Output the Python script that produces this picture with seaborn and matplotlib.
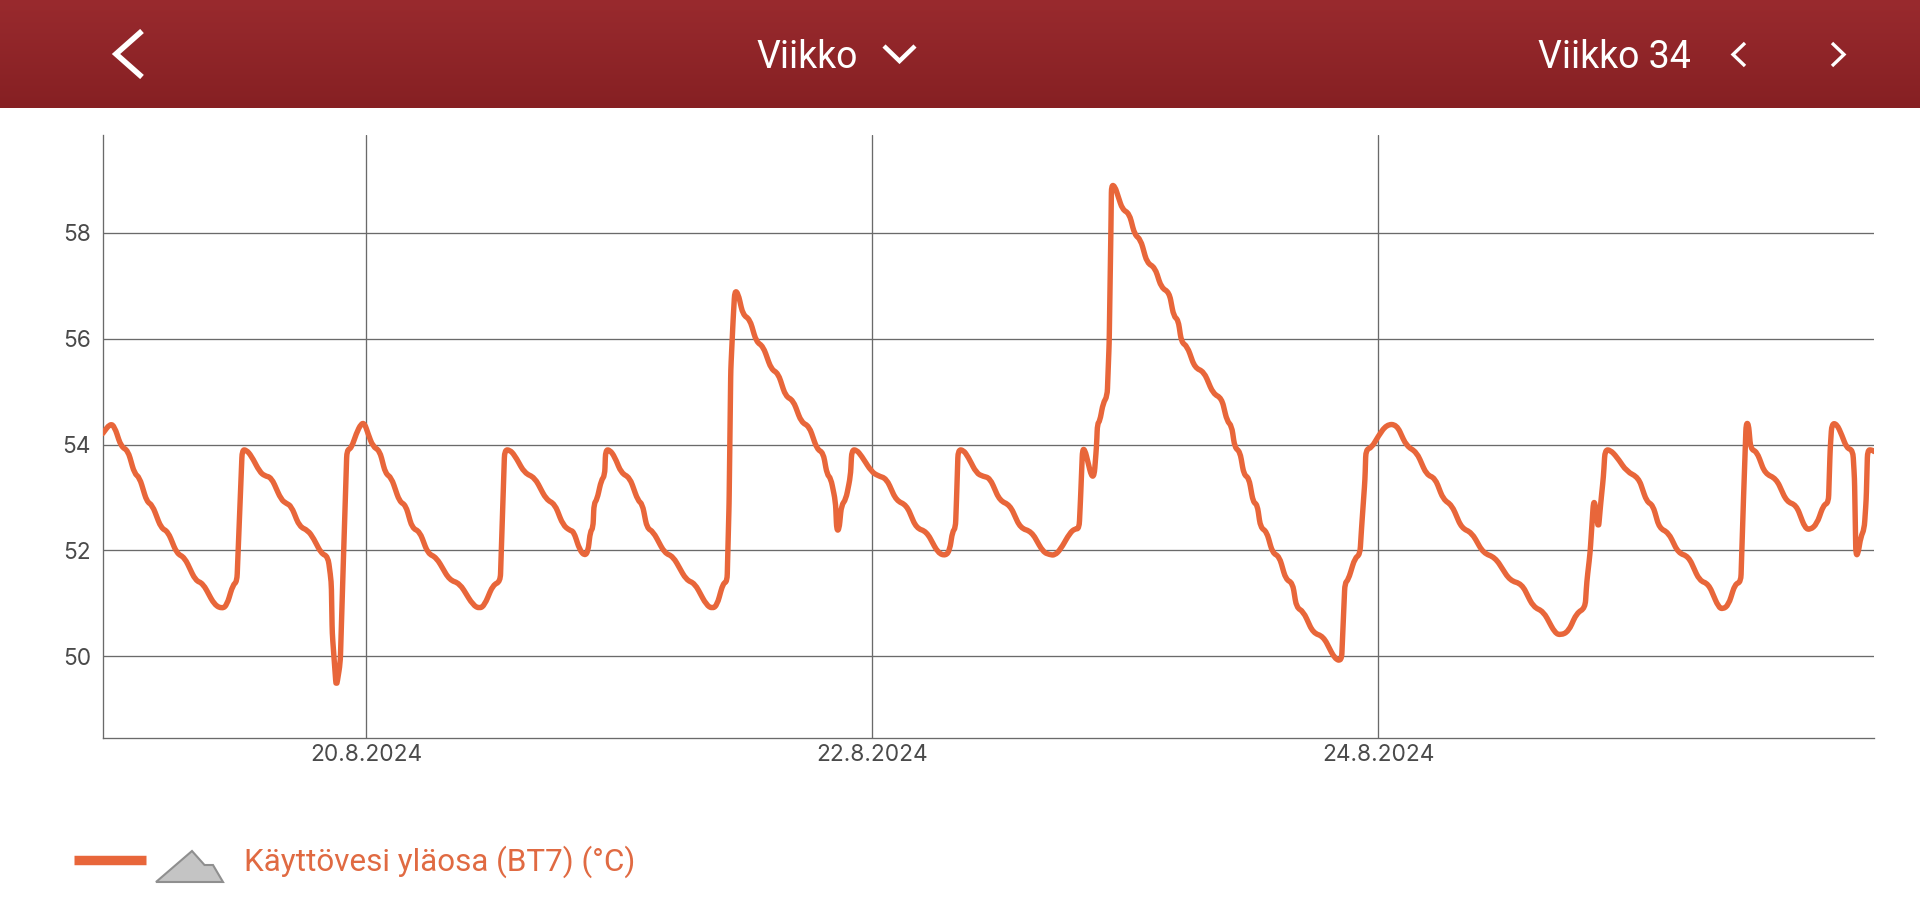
import numpy as np
import pandas as pd
import matplotlib.pyplot as plt
import matplotlib.dates as mdates
import seaborn as sns
from matplotlib.patheffects import AbstractPathEffect
from matplotlib.path import Path
from matplotlib.transforms import IdentityTransform

# hours counted from 19.8.2024 00:00
hours = [-1.0, -0.29, 0.12, 0.75, 1.39, 2.02, 2.49, 3.19, 3.7, 4.55, 5.18, 6.04, 6.76, 7.81, 8.5, 9.61, 10.34, 10.78,
         11.35, 11.73, 12.23, 12.61, 13.09, 13.88, 14.35, 14.99, 15.93, 16.41, 16.88, 17.67, 18.46, 19.0, 19.73, 20.36,
         20.68, 20.77, 21.15, 21.53, 21.85, 22.16, 22.58, 23.05, 23.52, 23.84, 24.16, 24.63, 25.26, 25.83, 26.37, 27.16,
         27.73, 28.36, 29.06, 29.85, 30.64, 31.9, 32.85, 34.12, 34.75, 35.22, 36.02, 36.71, 37.12, 37.6, 38.07, 39.02,
         39.97, 41.08, 41.87, 42.66, 43.29,
         43.67, 44.24, 44.71, 45.03, 45.25, 45.5, 45.6, 45.88, 46.29, 46.61, 46.7, 47.09, 47.56, 48.19, 48.98, 49.77,
         50.18, 50.63, 51.2, 52.3, 53.09, 54.36, 55.15, 56.26, 56.83, 57.27, 57.84, 58.22, 58.41, 58.57, 58.79, 58.95,
         59.26, 59.73, 60.37, 61.0, 61.63, 62.42, 63.06, 63.78, 64.48, 65.27, 66.0, 66.76, 67.33, 67.71, 68.05, 68.5,
         68.62, 68.84, 69.07, 69.48, 69.92, 70.05, 70.49, 70.96, 71.91, 72.54, 73.33, 74.28, 75.23, 76.18, 77.13, 78.24,
         78.96, 79.34, 79.6, 79.88, 79.98, 80.13, 80.61, 81.08, 81.87, 82.5, 83.14, 84.09, 85.04, 86.05, 87.09, 88.2,
         88.83, 89.3, 89.84, 90.73, 91.2, 91.61, 91.74, 91.93, 92.15, 92.47, 92.78, 93.04, 93.26, 93.35, 93.57, 93.89,
         94.27, 94.46, 94.62, 94.68, 95.0, 95.31, 95.72, 96.36, 96.89, 97.43, 98.06, 98.79, 99.42, 100.15, 100.59,
         101.0, 101.32, 101.86, 102.59, 103.44, 104.33, 105.12, 105.65, 106.07, 106.38, 106.86, 107.24, 107.71, 108.12,
         108.5, 108.82, 109.39, 109.96, 110.59, 111.22, 111.85, 112.23, 112.87, 113.81, 114.76, 115.87, 116.5, 116.82,
         117.13, 117.77, 118.24, 118.4, 118.72, 118.81, 119.35, 119.98, 120.77, 121.72, 122.67, 123.62, 124.57, 125.36,
         126.16, 126.95, 127.9, 128.84, 129.95, 131.06, 132.48, 133.59, 134.7, 135.64, 136.75, 137.29, 138.02, 138.81,
         139.6, 139.76, 140.07, 140.39, 140.55, 140.86, 141.08, 141.34, 141.49, 141.97, 142.6, 143.55, 144.66, 145.45,
         146.02, 146.65, 147.5, 148.45, 149.4, 150.45, 151.3, 152.25, 152.66, 153.2, 153.83, 154.37, 154.62, 154.87,
         155.09, 155.31, 155.88, 156.67, 157.72, 158.73, 159.62, 160.47, 160.95, 161.58, 162.21, 162.68, 162.84, 163.0,
         163.47, 163.95, 164.42, 164.99, 165.15, 165.28, 165.47, 165.75, 166.07, 166.26, 166.39, 166.8, 167.0]
temps = [54.21, 54.4, 54.34, 53.96, 53.89, 53.45, 53.38, 52.92, 52.86, 52.42, 52.36, 51.94, 51.87, 51.43, 51.38, 50.97, 50.9, 50.97,
         51.35, 51.41, 53.9, 53.9, 53.79, 53.49, 53.41, 53.38, 52.96, 52.89, 52.84, 52.45, 52.38, 52.23, 51.94, 51.89,
         51.41, 50.44, 49.4, 49.87, 51.95, 53.9, 53.93, 54.21, 54.4, 54.4, 54.21, 53.96, 53.89, 53.45, 53.38, 52.92,
         52.86, 52.42, 52.36, 51.94, 51.87, 51.44, 51.38, 50.97, 50.9, 50.97, 51.35, 51.41, 53.9, 53.9, 53.8, 53.46,
         53.38, 52.96, 52.88, 52.48, 52.38,
         52.36, 52.01, 51.9, 51.98, 52.36, 52.42, 52.89, 52.96, 53.33, 53.41, 53.9, 53.9, 53.77, 53.46, 53.38, 52.94,
         52.88, 52.42, 52.36, 51.95, 51.89, 51.44, 51.38, 50.97, 50.9, 50.97, 51.38, 51.41, 52.89, 55.41, 56.35, 56.91,
         56.86, 56.45, 56.37, 55.94, 55.86, 55.42, 55.35, 54.91, 54.84, 54.42, 54.35, 53.91, 53.85, 53.43, 53.37, 52.93,
         52.38, 52.39, 52.86, 52.96, 53.4, 53.9, 53.9, 53.79, 53.49, 53.41, 53.36, 52.94, 52.86, 52.42, 52.36, 51.95,
         51.9, 52.01, 52.36, 52.42, 52.96, 53.9, 53.9, 53.77, 53.46, 53.4, 53.37, 52.94, 52.86, 52.42, 52.36, 51.97,
         51.92, 51.91, 52.02, 52.33, 52.41, 52.41, 52.96, 53.91, 53.91, 53.65, 53.4, 53.41, 53.97, 54.4, 54.44, 54.79,
         54.91, 55.92, 58.0, 58.91, 58.88, 58.69, 58.44, 58.37, 57.96, 57.88, 57.43, 57.35, 56.96, 56.88, 56.42,
         56.36, 55.93, 55.86, 55.45, 55.38, 54.96, 54.88, 54.44, 54.36, 53.94, 53.87, 53.43, 53.37, 52.91,
         52.87, 52.43, 52.36, 51.95, 51.89, 51.45, 51.39, 50.92, 50.85, 50.44, 50.38, 49.95, 49.91, 51.39,
         51.44, 51.86, 51.92, 52.43, 53.34, 53.91, 53.94, 54.16, 54.38, 54.38, 53.97, 53.86, 53.43, 53.37,
         52.96, 52.86, 52.42, 52.34, 51.95, 51.87, 51.43, 51.37, 50.93, 50.85, 50.44, 50.4, 50.47, 50.82,
         50.91, 51.41, 51.95, 52.92, 52.89, 52.39, 52.89, 53.4, 53.9, 53.9, 53.77, 53.49, 53.38, 52.92,
         52.86, 52.42, 52.34, 51.95, 51.89, 51.43, 51.37, 50.93, 50.89, 50.97, 51.37, 51.4, 52.96, 54.4,
         54.4, 53.91, 53.87, 53.45, 53.36, 52.92, 52.86, 52.42, 52.39, 52.5, 52.86, 52.9, 53.9, 54.4,
         54.39, 54.18, 53.93, 53.9, 53.36, 51.92, 51.92, 52.26, 52.4, 52.96, 53.9, 53.9, 53.87]
y_ticks = [50, 52, 54, 56, 58]
x_ticks = ['2024-08-20', '2024-08-22', '2024-08-24']
legend_label = 'Käyttövesi yläosa (BT7) (°C)'


class RoundCorners(AbstractPathEffect):
    # the app draws its line with soft corners, so round the joins when rendering
    def __init__(self, radius):
        super().__init__()
        self.radius = radius

    def draw_path(self, renderer, gc, tpath, affine, rgbFace=None):
        pts = affine.transform(tpath.vertices)
        verts, codes = [pts[0]], [Path.MOVETO]
        for a, b, c in zip(pts[:-2], pts[1:-1], pts[2:]):
            d1, d2 = np.hypot(*(b - a)), np.hypot(*(c - b))
            if d1 == 0 or d2 == 0:
                continue
            verts += [b - (b - a) / d1 * min(d1 / 2, self.radius), b, b + (c - b) / d2 * min(d2 / 2, self.radius)]
            codes += [Path.LINETO, Path.CURVE3, Path.CURVE3]
        verts.append(pts[-1])
        codes.append(Path.LINETO)
        renderer.draw_path(gc, Path(np.array(verts), codes), IdentityTransform(), rgbFace)


sns.set_theme(style='white')
plt.rcParams['font.family'] = ['Roboto', 'DejaVu Sans']

start = pd.Timestamp('2024-08-19')
df = pd.DataFrame({'time': start + pd.to_timedelta(hours, unit='h'), 'temp': temps})

W, H = 1920, 915
ORANGE = '#e8663a'
GRID = '#6a6a6a'

fig = plt.figure(figsize=(W / 100, H / 100), dpi=100, facecolor='white')
ax = fig.add_axes([102.7 / W, 1 - 738 / H, (1874 - 102.7) / W, (738 - 135) / H])
sns.lineplot(data=df, x='time', y='temp', ax=ax, color=ORANGE, linewidth=3.9, estimator=None, sort=False, zorder=3,
             solid_joinstyle='round')
ax.lines[0].set_path_effects([RoundCorners(8)])

ax.set_xlim(start - pd.Timedelta(hours=1), start + pd.Timedelta(hours=167))
ax.set_ylim(48.457, 59.85)
ax.set_xticks(pd.to_datetime(x_ticks))
ax.xaxis.set_major_formatter(mdates.DateFormatter('%-d.%-m.%Y'))
ax.set_yticks(y_ticks)
ax.set_xlabel('')
ax.set_ylabel('')
ax.grid(True, color=GRID, linewidth=0.95)
ax.set_axisbelow(True)
ax.tick_params(length=0, labelsize=16.3, labelcolor='#4a4a4a')
ax.tick_params(axis='y', pad=8.5)
ax.tick_params(axis='x', pad=4)
for label in ax.get_xticklabels() + ax.get_yticklabels():
    label.set_family(['Inter', 'DejaVu Sans'])
sns.despine(ax=ax)
for side in ['left', 'bottom']:
    ax.spines[side].set_color(GRID)
    ax.spines[side].set_linewidth(0.95)

# header bar and legend live on a pixel overlay
over = fig.add_axes([0, 0, 1, 1], zorder=5)
over.patch.set_alpha(0)
over.axis('off')
grad = np.linspace(0, 1, 108)[:, None, None]
top = np.array([0x99, 0x2a, 0x2e]) / 255
bottom = np.array([0x86, 0x20, 0x23]) / 255
over.imshow(top + (bottom - top) * grad, extent=[0, W, 108, 0], aspect='auto', interpolation='bilinear')
over.set_xlim(0, W)
over.set_ylim(H, 0)


def chevron(pts, lw):
    over.plot(*zip(*pts), color='white', linewidth=lw, solid_capstyle='butt', solid_joinstyle='miter')


chevron([(142, 31), (116, 54), (142, 77)], 4)
chevron([(884, 46), (899.5, 61), (915, 46)], 3.2)
chevron([(1745, 43), (1733, 54.5), (1745, 66)], 2.4)
chevron([(1832, 43), (1844, 54.5), (1832, 66)], 2.4)
over.text(807, 57, 'Viikko', color='white', fontsize=27, ha='center', va='center')
over.text(1614, 57, 'Viikko 34', color='white', fontsize=27, ha='center', va='center')

over.plot([74, 146], [860, 860], color=ORANGE, linewidth=6.8, solid_capstyle='butt')
over.fill([156, 192, 204.5, 213, 223], [882, 851, 865, 865, 882], facecolor='#c4c4c4', edgecolor='#8f8f8f', linewidth=1.5)
over.text(244, 871, legend_label, color='#e06a42', fontsize=22.6, ha='left', va='baseline')

fig.savefig('out.png', dpi=100)
